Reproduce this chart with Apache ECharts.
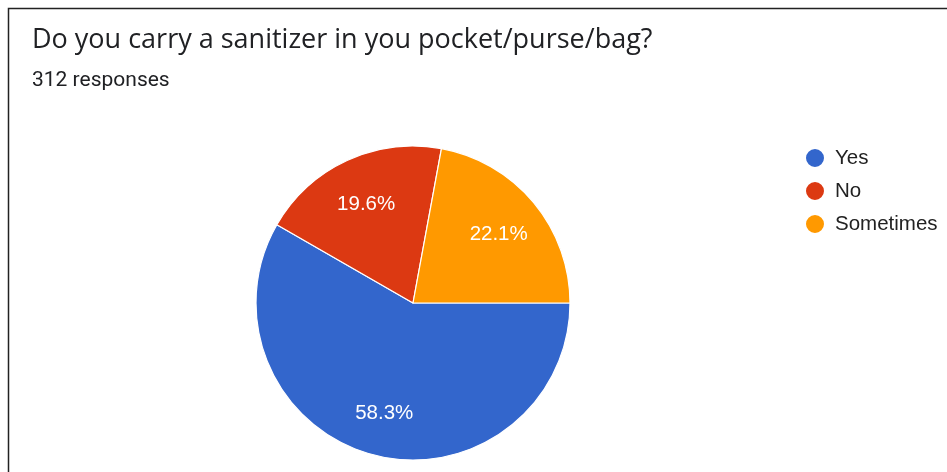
<!DOCTYPE html>
<html>
<head>
<meta charset="utf-8">
<script src="https://cdn.jsdelivr.net/npm/echarts@6/dist/echarts.min.js"></script>
<style>
  html, body { margin: 0; padding: 0; background: #fff; }
  #chart { width: 947px; height: 472px; }
</style>
</head>
<body>
<div id="chart"></div>
<script>
// Survey answers and their shares (percent of 312 responses)
const categories = ['Yes', 'No', 'Sometimes'];
const shares = [58.3, 19.6, 22.1];
const colors = ['#3366CC', '#DC3912', '#FF9900'];

const titleText = 'Do you carry a sanitizer in you pocket/purse/bag?';
const subtitleText = '312 responses';

const pieData = categories.map((name, i) => ({ name, value: shares[i] }));

const chart = echarts.init(document.getElementById('chart'), null, { renderer: 'canvas' });

const center = [413, 303];
const outerR = 157;

chart.setOption({
  animation: false,
  color: colors,
  title: {
    text: titleText,
    subtext: subtitleText,
    left: 27,
    top: 22,
    itemGap: 16,
    textStyle: { fontFamily: 'Open Sans', fontSize: 27, fontWeight: 'normal', color: '#202124' },
    subtextStyle: { fontFamily: 'Roboto', fontSize: 21, color: '#202124' }
  },
  legend: {
    data: categories,
    orient: 'vertical',
    left: 799,
    top: 142,
    icon: 'circle',
    itemWidth: 20,
    itemHeight: 20,
    itemGap: 11,
    textStyle: { fontFamily: 'Liberation Sans', fontSize: 20.5, color: '#222', padding: [0, 0, 0, 5] }
  },
  graphic: [{
    type: 'rect',
    shape: { x: 8.5, y: 8.5, width: 1000, height: 1000 },
    style: { fill: 'none', stroke: '#222', lineWidth: 1.5 },
    silent: true
  }],
  series: [
    {
      type: 'pie',
      center: center,
      radius: [0, outerR],
      startAngle: 0,
      clockwise: true,
      data: pieData,
      label: { show: false },
      labelLine: { show: false },
      itemStyle: { borderColor: '#fff', borderWidth: 1.2 },
      emphasis: { disabled: true }
    },
    {
      // transparent ring that places the percentage labels at ~70% of the radius
      type: 'pie',
      center: center,
      radius: [60, outerR],
      startAngle: 0,
      clockwise: true,
      data: pieData,
      silent: true,
      itemStyle: { color: 'rgba(0,0,0,0)' },
      label: {
        show: true,
        position: 'inside',
        offset: [0, 3],
        formatter: p => p.value.toFixed(1) + '%',
        color: '#fff',
        fontFamily: 'Liberation Sans',
        fontSize: 20.5
      },
      labelLine: { show: false },
      emphasis: { disabled: true }
    }
  ]
});
</script>
</body>
</html>
